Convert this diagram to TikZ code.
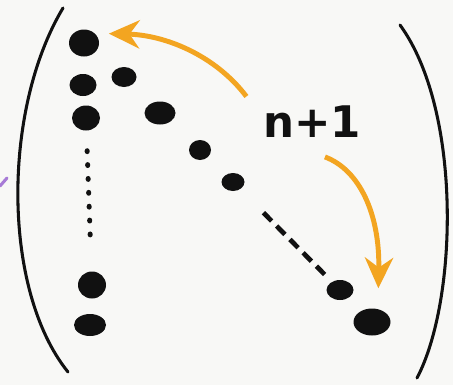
\documentclass[tikz,border=0pt]{standalone}
\usepackage{fontspec}
\usetikzlibrary{arrows.meta,shapes.geometric}
\newfontfamily\handfont{DejaVu Sans}
\definecolor{penorange}{HTML}{F3A521}
\definecolor{penpurple}{HTML}{A77BD6}
\definecolor{paper}{HTML}{F8F8F6}
\definecolor{ink}{HTML}{111111}
\tikzset{
  dot/.style 2 args={ellipse, fill=ink, inner sep=0pt,
    minimum width={#1*0.85pt}, minimum height={#2*0.85pt}},
  paren/.style={ink, line width=2.6pt, line cap=round},
  bend arrow/.style={penorange, line width=4.2pt,
    -{Stealth[length=26pt, width=24pt]}},
}

\begin{document}
\begin{tikzpicture}[x=0.85pt, y=-0.85pt]
  \fill[paper] (0,0) rectangle (453,385);
  \useasboundingbox (0,0) rectangle (453,385);

  % brackets
  \draw[paren] (63,8) .. controls (2,110) and (2,290) .. (68,372);
  \draw[paren] (400,25) .. controls (462,110) and (458,300) .. (417,378);

  % first column
  \node[dot={30}{27}] (c1) at (84,43) {};
  \node[dot={27}{22}] (c2) at (83,85) {};
  \node[dot={28}{25}] (c3) at (86,118) {};
  \node[dot={28}{27}] (c4) at (92,285) {};
  \node[dot={32}{22}] (c5) at (90,325) {};

  % diagonal
  \node[dot={25}{20}] (g1) at (124,77) {};
  \node[dot={31}{23}] (g2) at (160,113) {};
  \node[dot={22}{20}] (g3) at (200,150) {};
  \node[dot={23}{18}] (g4) at (233,182) {};
  \node[dot={27}{20}] (g5) at (340,290) {};
  \node[dot={37}{27}] (g6) at (372,322) {};

  \draw[ink, line width=4.2pt, line cap=round, dash pattern=on 0.8pt off 11pt,
    shorten <=17pt, shorten >=28pt] (c3) -- (c4);
  \draw[ink, line width=4pt, dash pattern=on 10pt off 6pt,
    shorten <=28pt, shorten >=7pt] (g4) -- (g5);

  % label and arrows
  \node[font=\handfont\bfseries\fontsize{37}{40}\selectfont, text=ink, inner sep=0pt]
    (lbl) at (312,122) {n+1};
  \draw[bend arrow, shorten >=12pt]
    ([xshift=-14pt, yshift=8pt]lbl.north west) .. controls (215,55) and (165,35) .. (c1.north east);
  \draw[bend arrow, shorten >=17pt]
    ([xshift=11pt, yshift=-16pt]lbl.south) .. controls (360,170) and (380,215) .. ([xshift=5pt]g6.north);

  % stray mark on the left edge
  \draw[penpurple, line width=2.6pt, line cap=round] (0,186) -- (7,178);
\end{tikzpicture}
\end{document}
